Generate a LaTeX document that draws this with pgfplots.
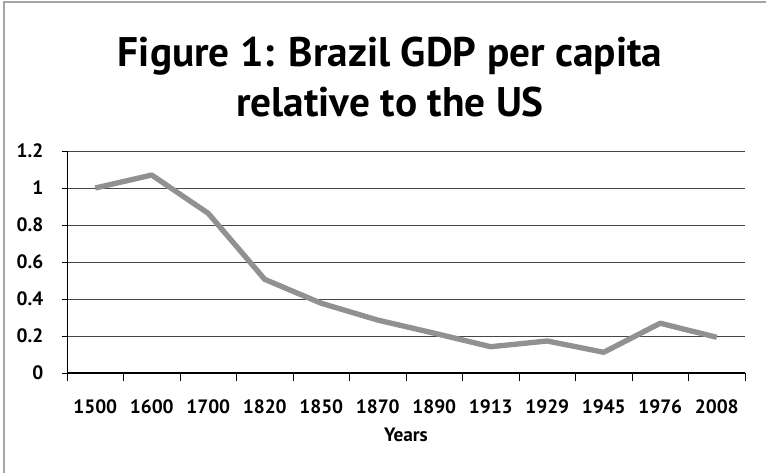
\documentclass[border=0pt]{standalone}
\usepackage{pgfplots}
\pgfplotsset{compat=1.18}
\usepackage{fontspec}
\setmainfont{PT Sans}

\definecolor{seriesgray}{RGB}{143,145,147}
\definecolor{framegray}{RGB}{163,166,169}
\definecolor{gridgray}{RGB}{70,70,70}

\begin{document}
\begin{tikzpicture}
\useasboundingbox (0,0) rectangle (574.5pt,354.75pt);
% frame along the top and left edges
\draw[framegray, line width=1.5pt] (3pt,0) -- (3pt,353.25pt) -- (574.5pt,353.25pt);

% title
\node[anchor=base, font=\bfseries\fontsize{31}{36}\selectfont] at (292.5pt,304.5pt) {Figure 1: Brazil GDP per capita};
\node[anchor=base, font=\bfseries\fontsize{31}{36}\selectfont] at (292.5pt,267pt) {relative to the US};

\begin{axis}[
  at={(50.25pt,75pt)}, anchor=south west,
  scale only axis, width=508.5pt, height=166.5pt,
  xmin=-0.5, xmax=11.5, ymin=0, ymax=1.2,
  axis lines*=left,
  x axis line style={black, line width=1.4pt},
  y axis line style={black, line width=0.7pt},
  tick align=outside,
  xtick={0,1,2,3,4,5,6,7,8,9,10,11},
  xticklabels={1500,1600,1700,1820,1850,1870,1890,1913,1929,1945,1976,2008},
  minor xtick={-0.5,0.5,1.5,2.5,3.5,4.5,5.5,6.5,7.5,8.5,9.5,10.5,11.5},
  major x tick style={draw=none},
  minor x tick style={black, line width=0.6pt},
  minor tick length=6pt,
  major tick length=3.75pt,
  ytick={0,0.2,0.4,0.6,0.8,1,1.2},
  yticklabels={0,0.2,0.4,0.6,0.8,1,1.2},
  major y tick style={black, line width=0.6pt},
  ymajorgrids,
  major y grid style={gridgray, line width=0.6pt},
  /pgf/number format/assume math mode=true,
  ticklabel style={font=\bfseries\fontsize{14.5}{17}\selectfont},
  xticklabel style={yshift=-12.5pt},
  yticklabel style={xshift=-10.5pt},
  xlabel={Years},
  xlabel style={at={(rel axis cs:0.5,0)}, anchor=base, yshift=-51.75pt,
                font=\bfseries\fontsize{14.5}{17}\selectfont},
  clip=false,
]
\addplot[seriesgray, line width=4pt, line join=round] coordinates {
  (0,1.00) (1,1.07) (2,0.863) (3,0.506) (4,0.377) (5,0.286)
  (6,0.215) (7,0.142) (8,0.173) (9,0.112) (10,0.269) (11,0.193)
};
\end{axis}
\end{tikzpicture}
\end{document}
